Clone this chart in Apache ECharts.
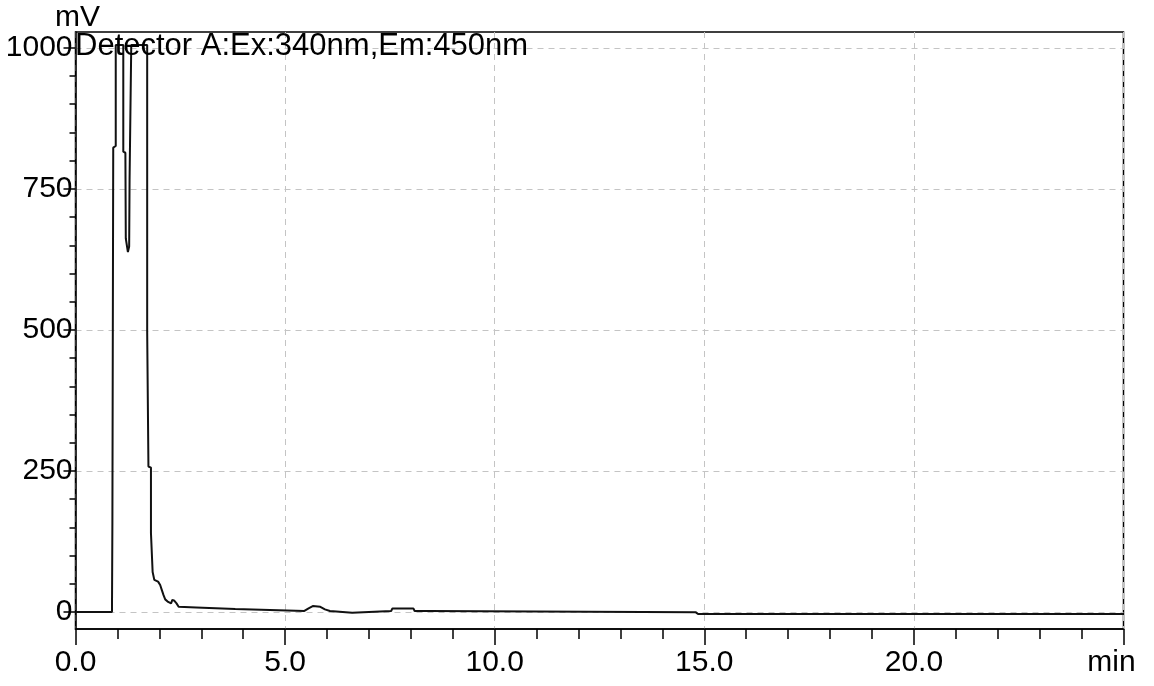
<!DOCTYPE html>
<html>
<head>
<meta charset="utf-8">
<script src="https://cdn.jsdelivr.net/npm/echarts@6/dist/echarts.min.js"></script>
<style>
  html, body { margin: 0; padding: 0; background: #fff; }
  #chart { width: 1154px; height: 686px; }
</style>
</head>
<body>
<div id="chart"></div>
<script>
// Fluorescence detector trace (retention time in min, signal in mV)
const timeMin = [
  0.00, 0.87, 0.88, 0.90, 0.90, 0.96, 0.96, 1.14, 1.14, 1.19,
  1.20, 1.24, 1.25, 1.27, 1.28, 1.29, 1.32, 1.33, 1.71, 1.71,
  1.74, 1.74, 1.80, 1.80, 1.83, 1.84, 1.87, 1.88, 1.97, 1.99,
  2.02, 2.06, 2.10, 2.14, 2.21, 2.28, 2.31, 2.36, 2.41, 2.46,
  2.88, 2.90, 3.81, 3.85, 5.46, 5.56, 5.66, 5.84, 5.95, 6.07,
  6.10, 6.60, 6.63, 7.53, 7.56, 8.06, 8.09, 8.42, 8.46, 14.80,
  14.85, 25.00
];
const signalMv = [
  0, 0, 158, 160, 823, 826, 1005, 1005, 816, 814,
  662, 659, 638, 636, 648, 766, 768, 1005, 1005, 497,
  495, 258, 256, 140, 138, 71, 69, 57, 54, 53,
  48, 39, 30, 22.5, 18, 15.4, 21.5, 20, 15.4, 9.4,
  8.3, 5.3, 5.3, 2, 2, 6.6, 10.6, 9.4, 4.8, 2,
  -1, -1, 2, 2, 6.5, 6.5, 2, 2, -0.5, -0.5,
  -3.5, -3.5
];

// Axis ticks
const xMajorStep = 5;
const yMajorTicks = [0, 250, 500, 750, 1000];
const yMinorTicks = [50, 100, 150, 200, 300, 350, 400, 450, 550, 600, 650, 700, 800, 850, 900, 950];
const xUnitLabel = 'min';
const yUnitLabel = 'mV';
const traceTitle = 'Detector A:Ex:340nm,Em:450nm';

const FONT = '"Liberation Sans", Arial, sans-serif';
const FS = 30;

const chart = echarts.init(document.getElementById('chart'), null, { renderer: 'canvas' });

const traceData = timeMin.map((t, i) => [t, signalMv[i]]);

chart.setOption({
  animation: false,
  backgroundColor: '#ffffff',
  grid: {
    left: 75.5, right: 30.5, top: 32, bottom: 57,
    outerBoundsMode: 'none',
    containLabel: false,
    show: true, borderColor: '#000', borderWidth: 1.5, backgroundColor: 'transparent'
  },
  graphic: [{
    type: 'text',
    left: 75,
    top: 31,
    z: 100,
    style: {
      text: traceTitle,
      font: '31px ' + FONT,
      fill: '#000'
    }
  }],
  xAxis: {
    type: 'value',
    min: 0, max: 25, interval: xMajorStep,
    axisLine: { show: true, onZero: false, lineStyle: { color: '#000', width: 1.5 } },
    axisTick: { show: true, inside: false, length: 16, lineStyle: { color: '#000', width: 1.5 } },
    minorTick: { show: true, splitNumber: 5, length: 10, lineStyle: { color: '#000', width: 1.5 } },
    splitLine: { show: true, lineStyle: { color: '#c4c4c4', type: [6, 5], width: 1 } },
    axisLabel: {
      margin: 19,
      fontFamily: FONT, fontSize: FS, color: '#000',
      formatter: v => v === 25 ? '{u|' + xUnitLabel + '}' : v.toFixed(1),
      rich: { u: { fontFamily: FONT, fontSize: FS, color: '#000', padding: [0, 24, 0, 0] } }
    }
  },
  yAxis: [{
    type: 'value',
    min: -30, max: 1028,
    name: yUnitLabel,
    nameLocation: 'end',
    nameGap: 12,
    nameTextStyle: { fontFamily: FONT, fontSize: FS, color: '#000', verticalAlign: 'middle', padding: [0, 0, 0, 4] },
    axisLine: { show: true, onZero: false, lineStyle: { color: '#000', width: 1.5 } },
    axisTick: { show: true, inside: false, length: 12, customValues: yMajorTicks, lineStyle: { color: '#000', width: 1.5 } },
    splitLine: { show: true, lineStyle: { color: '#c4c4c4', type: [6, 5], width: 1 } },
    axisLabel: {
      margin: 3,
      customValues: yMajorTicks,
      fontFamily: FONT, fontSize: FS, color: '#000',
      formatter: v => String(v)
    }
  }, {
    type: 'value',
    min: -30, max: 1028,
    position: 'left',
    axisLine: { show: false },
    axisTick: { show: true, inside: false, length: 6, customValues: yMinorTicks, lineStyle: { color: '#000', width: 1.5 } },
    splitLine: { show: false },
    axisLabel: { show: false }
  }],
  series: [{
    type: 'line',
    data: traceData,
    xAxisIndex: 0,
    yAxisIndex: 0,
    showSymbol: false,
    symbol: 'none',
    smooth: false,
    clip: true,
    lineStyle: { color: '#111', width: 2 },
    z: 5
  }]
});
</script>
</body>
</html>
